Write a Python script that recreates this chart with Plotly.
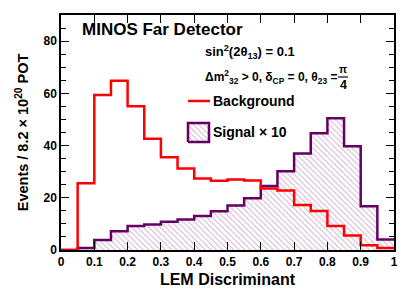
import plotly.graph_objects as go

bin_edges = [round(0.05 * i, 2) for i in range(21)]
background = [0, 25.6, 59.4, 64.8, 55.1, 42.6, 35.5, 31.2, 27.4, 26.5,
              27.0, 26.6, 23.6, 22.8, 17.2, 14.9, 9.2, 5.6, 1.8, 0.8]
signal_x10 = [0, 0.8, 3.8, 7.2, 9.2, 9.8, 10.8, 11.7, 13.0, 14.8,
              17.0, 19.8, 24.5, 30.2, 37.0, 44.7, 50.5, 39.7, 16.8, 4.0]

x_tick_vals = [0, 0.1, 0.2, 0.3, 0.4, 0.5, 0.6, 0.7, 0.8, 0.9, 1.0]
x_tick_text = ["0", "0.1", "0.2", "0.3", "0.4", "0.5", "0.6", "0.7", "0.8", "0.9", "1"]
y_tick_vals = [0, 20, 40, 60, 80]

RED = "#ff0000"
PURPLE = "#640064"
HATCH = "#a064a0"
FONT = "Liberation Sans"

W, H = 407, 295
L, R, T, B = 61, 13, 15, 45
pw, ph = W - L - R, H - T - B


def px(xp):
    return (xp - L) / pw


def py(yp):
    return (H - B - yp) / ph


def step(vals):
    return vals + [vals[-1]]


hatch = dict(shape="\\", fgcolor=HATCH, bgcolor="white", size=4, solidity=0.25)

fig = go.Figure()
fig.add_trace(go.Scatter(
    x=bin_edges, y=step(signal_x10), mode="lines", line_shape="hv",
    line=dict(color=PURPLE, width=2.5), fill="tozeroy",
    fillcolor="rgba(0,0,0,0)", fillpattern=hatch,
    showlegend=False, hoverinfo="skip"))
fig.add_trace(go.Scatter(
    x=bin_edges, y=step(background), mode="lines", line_shape="hv",
    line=dict(color=RED, width=2.5), showlegend=False, hoverinfo="skip"))

# legend key box (on overlay axes in paper units)
bx0, bx1 = px(188), px(209)
by0, by1 = py(142), py(123)
fig.add_trace(go.Scatter(
    x=[bx0, bx1, bx1, bx0, bx0], y=[by0, by0, by1, by1, by0],
    xaxis="x2", yaxis="y2", mode="lines", fill="toself",
    line=dict(color=PURPLE, width=2.5), fillcolor="rgba(0,0,0,0)",
    fillpattern=hatch, showlegend=False, hoverinfo="skip"))

fig.add_shape(type="line", xref="paper", yref="paper",
              x0=px(188), x1=px(210), y0=py(101), y1=py(101),
              line=dict(color=RED, width=2.5))

ann_font = dict(family=FONT, color="black", weight="bold")


def text(xp, yp, s, size, anchor="left", pad=1):
    fig.add_annotation(xref="paper", yref="paper", x=px(xp), y=py(yp), text=s,
                       showarrow=False, xanchor=anchor, yanchor="middle",
                       borderpad=pad, font=dict(size=size, **ann_font))


text(80, 30, "MINOS Far Detector", 17)
text(203, 52, "sin<sup>2</sup>(2θ<sub>13</sub>) = 0.1", 13)
text(203, 77, "Δm<sup>2</sup><sub>32</sub> &gt; 0, δ<sub>CP</sub> = 0, θ<sub>23</sub> =", 12)
text(343, 69.5, "π", 10.5, "center", 0)
text(343, 85, "4", 12.5, "center", 0)
fig.add_shape(type="line", xref="paper", yref="paper",
              x0=px(338), x1=px(348), y0=py(77), y1=py(77),
              line=dict(color="black", width=1.2))
text(211, 101, "Background", 14)
text(211, 132, "Signal × 10", 14)

axis_common = dict(showline=True, linecolor="black", linewidth=1.5, mirror="ticks",
                   ticks="inside", tickcolor="black", tickwidth=1.2, ticklen=8,
                   showgrid=False, zeroline=False, automargin=False,
                   tickfont=dict(family=FONT, size=12, color="black", weight="bold"))

fig.update_layout(
    width=W, height=H,
    margin=dict(l=L, r=R, t=T, b=B),
    plot_bgcolor="white", paper_bgcolor="white",
    xaxis=dict(range=[0, 1], tickvals=x_tick_vals, ticktext=x_tick_text,
               title=dict(text="LEM Discriminant", standoff=6,
                          font=dict(family=FONT, size=16, color="black", weight="bold")),
               **axis_common),
    yaxis=dict(range=[0, 90], tickvals=y_tick_vals,
               minor=dict(dtick=5, ticks="inside", ticklen=5, tickcolor="black", tickwidth=1.2),
               title=dict(text="Events / 8.2 × 10<sup>20</sup> POT", standoff=11,
                          font=dict(family=FONT, size=14.5, color="black", weight="bold")),
               **axis_common),
    xaxis2=dict(range=[0, 1], overlaying="x", visible=False, fixedrange=True),
    yaxis2=dict(range=[0, 1], overlaying="y", visible=False, fixedrange=True),
)

fig.write_html("out.html", config={"displayModeBar": False},
               post_script="document.body.style.margin='0';")
